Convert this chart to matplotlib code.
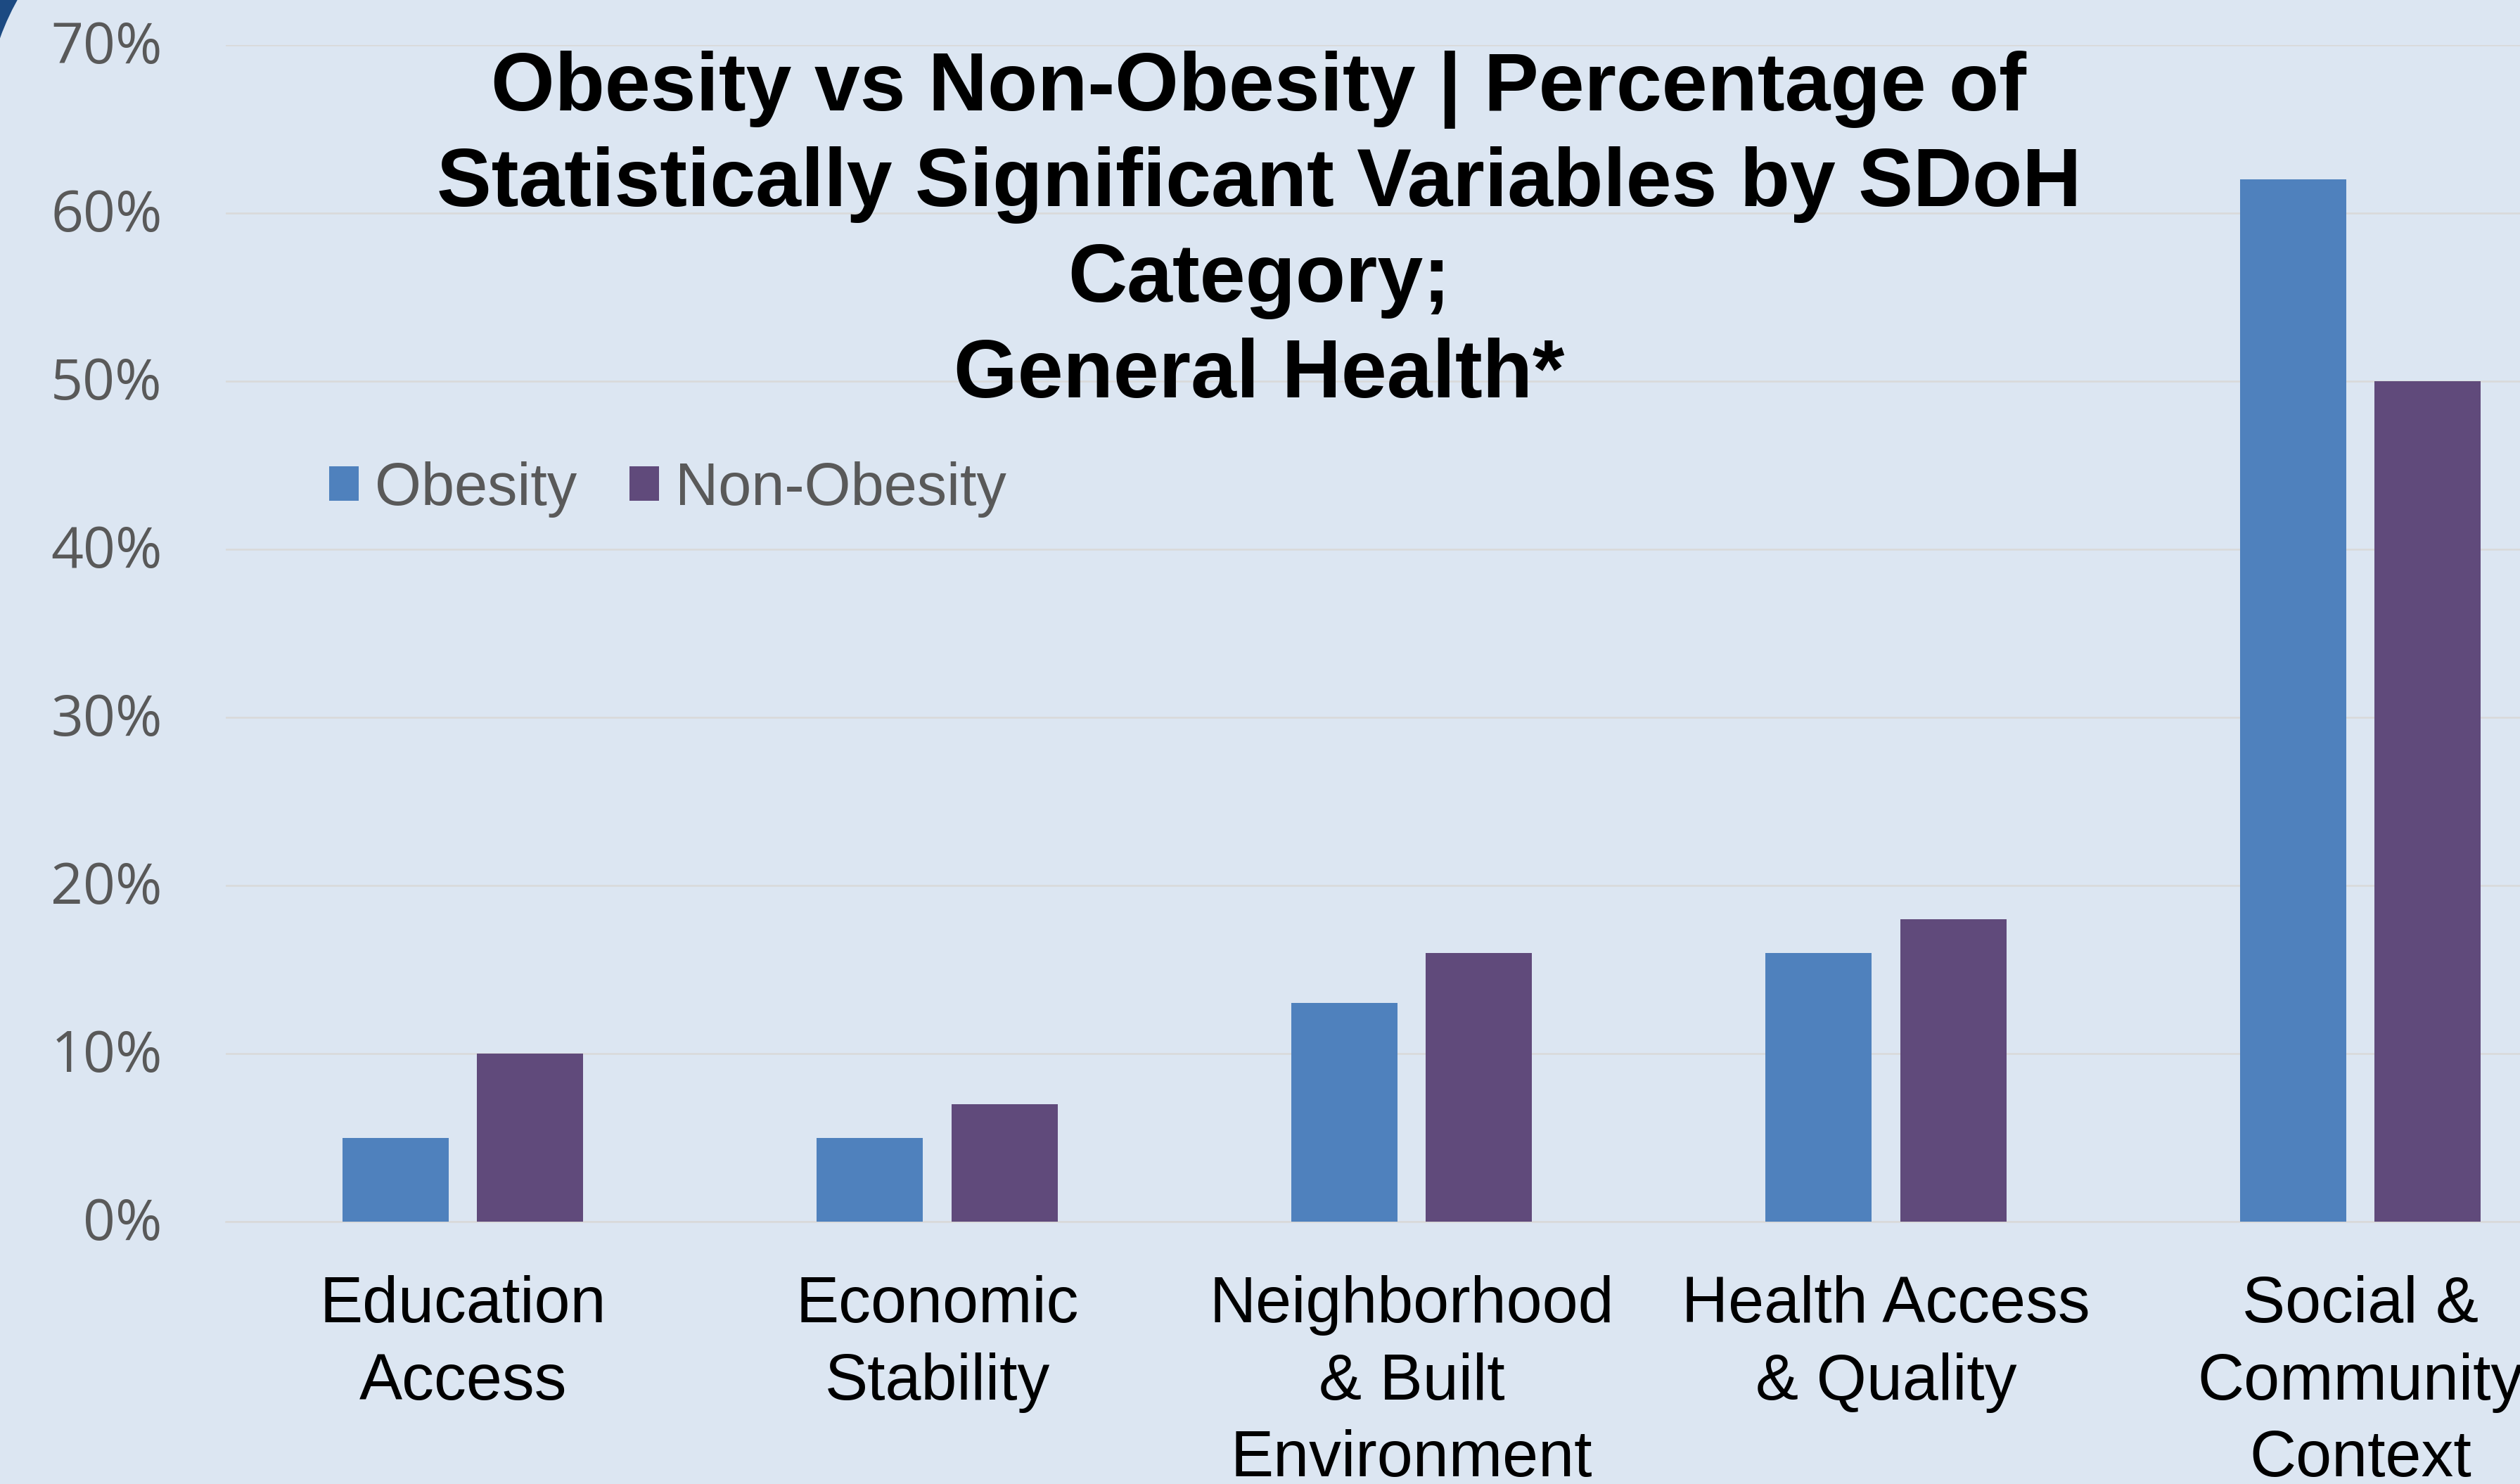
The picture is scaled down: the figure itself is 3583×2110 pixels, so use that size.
#!/usr/bin/env python
"""
Obesity vs Non-Obesity : share of statistically significant variables by SDoH category
"""
import numpy as np
import matplotlib
matplotlib.use("Agg")
import matplotlib.pyplot as mp
import matplotlib.transforms as mtransforms
from matplotlib.patches import Rectangle, Circle

categories = ["Education\nAccess", "Economic\nStability", "Neighborhood\n& Built\nEnvironment",
              "Health Access\n& Quality", "Social &\nCommunity\nContext"]
obesity = [5, 5, 13, 16, 62]
non_obesity = [10, 7, 16, 18, 50]
yticks = [0, 10, 20, 30, 40, 50, 60, 70]

title = ("Obesity vs Non-Obesity | Percentage of\n"
         "Statistically Significant Variables by SDoH\n"
         "Category;\n"
         "General Health*")

BG = "#DCE6F2"
BLUE = "#4F81BD"
PURPLE = "#604A7B"
GRID = "#D9D9D9"
GREY = "#595959"

W, H = 3583, 2110
fig = mp.figure(figsize=(W/100., H/100.), dpi=100)
fig.patch.set_facecolor(BG)

# dark rounded corner of the slide panel, top left
fig.patches.append(Rectangle((0, H-90), 90, 90, transform=None, facecolor="#1C4A82", edgecolor="none", zorder=-3))
fig.patches.append(Circle((342.5, H-177.5), 364, transform=None, facecolor=BG, edgecolor="none", zorder=-2))

# axes run off the right edge of the picture, as in the reference
ax = fig.add_axes([321/W, 373/H, 5*674.4/W, (2046-373)/H])
ax.set_facecolor("none")

x = np.arange(len(categories))
w = 0.224
off = 0.142
ax.bar(x - off, obesity, w, color=BLUE, label="Obesity", zorder=3)
ax.bar(x + off, non_obesity, w, color=PURPLE, label="Non-Obesity", zorder=3)

ax.set_xlim(-0.5, len(categories) - 0.5)
ax.set_ylim(0, 70)
ax.set_yticks(yticks)
ax.set_yticklabels(["%d%%" % v for v in yticks], fontsize=58, color=GREY, family=["Open Sans", "DejaVu Sans"])
ax.set_xticks(x)
ax.set_xticklabels(categories, fontsize=66, color="black", family=["Liberation Sans", "DejaVu Sans"],
                   linespacing=1.35)
ax.tick_params(axis="y", length=0, pad=65)
ax.tick_params(axis="x", length=0, pad=55)

# excel puts the y labels a touch above their gridline
up = mtransforms.ScaledTranslation(0, 5/100., fig.dpi_scale_trans)
for lab in ax.get_yticklabels():
    lab.set_transform(lab.get_transform() + up)

ax.yaxis.grid(True, color=GRID, lw=1.8, zorder=0)
ax.set_axisbelow(True)
for s in ["top", "right", "left"]:
    ax.spines[s].set_visible(False)
ax.spines["bottom"].set_color(GRID)
ax.spines["bottom"].set_linewidth(1.8)

leg = ax.legend(loc="center left", bbox_to_anchor=(468/W, 1414.5/H), bbox_transform=fig.transFigure,
                ncol=2, frameon=False, borderpad=0, borderaxespad=0, handlelength=0.5, handleheight=0.5,
                handletextpad=0.27, columnspacing=0.88,
                prop={"family": ["Liberation Sans", "DejaVu Sans"], "size": 61})
for t in leg.get_texts():
    t.set_color(GREY)

fig.text(1790/W, 1 - 72/H, title, ha="center", va="top", fontsize=84, fontweight="bold",
         family=["Liberation Sans", "DejaVu Sans"], linespacing=1.30, color="black")

fig.savefig("out.png", dpi=100, facecolor=BG)
